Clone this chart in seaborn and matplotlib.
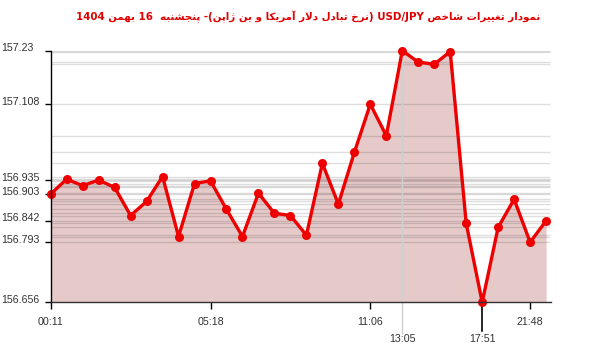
import re
import matplotlib
matplotlib.use("Agg")
import matplotlib.pyplot as plt
import matplotlib.transforms as mtransforms
from matplotlib.lines import Line2D
import seaborn as sns
import numpy as np

# ---------------- data ----------------
values = [156.903, 156.937, 156.922, 156.935, 156.918, 156.854, 156.886, 156.943,
          156.806, 156.927, 156.933, 156.868, 156.806, 156.905, 156.859, 156.854,
          156.809, 156.973, 156.880, 156.998, 157.108, 157.036, 157.230, 157.204,
          157.199, 157.228, 156.836, 156.656, 156.827, 156.891, 156.793, 156.842]
xtick_pos = [0, 10, 20, 30]
xtick_labels = ["00:11", "05:18", "11:06", "21:48"]
max_pos, max_label = 22, "13:05"
min_pos, min_label = 27, "17:51"
ytick_vals = [156.656, 156.793, 156.842, 156.903, 156.935, 157.108, 157.23]
ytick_labels = ["156.656", "156.793", "156.842", "156.903", "156.935", "157.108", "157.23"]
title_text = "نمودار تغییرات شاخص USD/JPY (نرخ تبادل دلار آمریکا و ین ژاپن)- پنجشنبه  16 بهمن 1404"

# ------------- minimal Arabic/Persian shaping + bidi -------------
FORMS = {
    '\u0627': ('\uFE8D', '\uFE8E', None, None),
    '\u0622': ('\uFE81', '\uFE82', None, None),
    '\u0628': ('\uFE8F', '\uFE90', '\uFE91', '\uFE92'),
    '\u062A': ('\uFE95', '\uFE96', '\uFE97', '\uFE98'),
    '\u062C': ('\uFE9D', '\uFE9E', '\uFE9F', '\uFEA0'),
    '\u062E': ('\uFEA5', '\uFEA6', '\uFEA7', '\uFEA8'),
    '\u062F': ('\uFEA9', '\uFEAA', None, None),
    '\u0631': ('\uFEAD', '\uFEAE', None, None),
    '\u0698': ('\uFB8A', '\uFB8B', None, None),
    '\u0634': ('\uFEB5', '\uFEB6', '\uFEB7', '\uFEB8'),
    '\u0635': ('\uFEB9', '\uFEBA', '\uFEBB', '\uFEBC'),
    '\u063A': ('\uFECD', '\uFECE', '\uFECF', '\uFED0'),
    '\u06A9': ('\uFB8E', '\uFB8F', '\uFB90', '\uFB91'),
    '\u0644': ('\uFEDD', '\uFEDE', '\uFEDF', '\uFEE0'),
    '\u0645': ('\uFEE1', '\uFEE2', '\uFEE3', '\uFEE4'),
    '\u0646': ('\uFEE5', '\uFEE6', '\uFEE7', '\uFEE8'),
    '\u0647': ('\uFEE9', '\uFEEA', '\uFEEB', '\uFEEC'),
    '\u0648': ('\uFEED', '\uFEEE', None, None),
    '\u06CC': ('\uFBFC', '\uFBFD', '\uFBFE', '\uFBFF'),
    '\u067E': ('\uFB56', '\uFB57', '\uFB58', '\uFB59'),
}
LAMALEF = {'\u0627': ('\uFEFB', '\uFEFC'), '\u0622': ('\uFEF5', '\uFEF6')}


def _joins_fwd(c):
    return c in FORMS and FORMS[c][2] is not None


def shape(s):
    out, i, n = [], 0, len(s)
    while i < n:
        c = s[i]
        if c not in FORMS:
            out.append(c); i += 1; continue
        pj = i > 0 and _joins_fwd(s[i - 1])
        if c == '\u0644' and i + 1 < n and s[i + 1] in LAMALEF:
            lig = LAMALEF[s[i + 1]]
            out.append(lig[1] if pj else lig[0]); i += 2; continue
        nj = _joins_fwd(c) and i + 1 < n and s[i + 1] in FORMS
        iso, fin, ini, med = FORMS[c]
        out.append(med if (pj and nj) else fin if pj else ini if nj else iso)
        i += 1
    return ''.join(out)


def visual(s):
    shaped = shape(s)
    runs = re.findall(r'[A-Za-z0-9]+(?:[/.:][A-Za-z0-9]+)*|[^A-Za-z0-9]+', shaped)
    mirror = {'(': ')', ')': '('}
    out = []
    for r in reversed(runs):
        if re.match(r'[A-Za-z0-9]', r):
            out.append(r)
        else:
            out.append(''.join(mirror.get(ch, ch) for ch in reversed(r)))
    return ''.join(out)


# ---------------- figure ----------------
W, H = 600, 352
fig = plt.figure(figsize=(W / 100, H / 100), dpi=100)
fig.patch.set_facecolor("white")

ax_l, ax_r, ax_t, ax_b = 50.7, 550.9, 50.7, 302.3
ax = fig.add_axes([ax_l / W, 1 - ax_b / H, (ax_r - ax_l) / W, (ax_b - ax_t) / H])
ax.set_facecolor("white")

x = np.arange(len(values))
ymin, ymax = min(ytick_vals), max(ytick_vals)
xmax = 31.3
ax.set_xlim(0, xmax)
ax.set_ylim(ymin, ymax)

# fill under the line
ax.fill_between(x, values, ymin, color="#e6caca", zorder=1, linewidth=0)

# horizontal guide lines at every value
ax.hlines(sorted(set(values)), 0, 31.25, colors=[(0, 0, 0, 0.13)], linewidth=1, zorder=1.5)

# vertical grey guide at the max time
blend = mtransforms.blended_transform_factory(ax.transData, ax.transAxes)
ax.add_line(Line2D([max_pos, max_pos], [-0.123, 1], transform=blend, color="#cfcfcf",
                   linewidth=1, clip_on=False, zorder=1.6))
# black long tick at the min time
ax.add_line(Line2D([min_pos, min_pos], [-0.113, 0], transform=blend, color="black",
                   linewidth=1.2, clip_on=False, zorder=3))

sns.lineplot(x=x, y=values, ax=ax, color="#ee0000", linewidth=2.4, marker="o",
             markersize=6.5, markeredgewidth=0, zorder=4, clip_on=False, legend=False)

# spines
for s in ["top", "right"]:
    ax.spines[s].set_visible(False)
ax.spines["left"].set_color("black")
ax.spines["bottom"].set_color("#333333")
ax.spines["left"].set_linewidth(1)
ax.spines["bottom"].set_linewidth(1)
ax.spines["left"].set_zorder(5)
ax.spines["bottom"].set_zorder(5)

tick_font = dict(family="Liberation Sans", size=7.7, color="#333333")

# y ticks
ax.set_yticks(ytick_vals)
ax.set_yticklabels(ytick_labels)
ax.tick_params(axis="y", length=4.3, width=1, color="black", pad=31.0, labelsize=7.7,
               labelcolor="#333333")
offset = mtransforms.ScaledTranslation(0, 3.5 / 100, fig.dpi_scale_trans)
for lab in ax.get_yticklabels():
    lab.set_horizontalalignment("left")
    lab.set_fontfamily("Liberation Sans")
    lab.set_transform(lab.get_transform() + offset)

# x ticks
ax.set_xticks(xtick_pos)
ax.set_xticklabels(xtick_labels)
ax.tick_params(axis="x", length=5, width=1, color="black", pad=5.5, labelsize=7.7,
               labelcolor="#333333")
for lab in ax.get_xticklabels():
    lab.set_fontfamily("Liberation Sans")

for pos, lab in [(max_pos, max_label), (min_pos, min_label)]:
    ax.text(pos, -0.146, lab, transform=blend, ha="center", va="center", **tick_font)

# title
fig.text(308 / W, 1 - 17 / H, visual(title_text), ha="center", va="center",
         color="#e00000", fontsize=7.35, fontweight="bold", family=["DejaVu Sans"])

fig.savefig("out.png", dpi=100, facecolor="white")
